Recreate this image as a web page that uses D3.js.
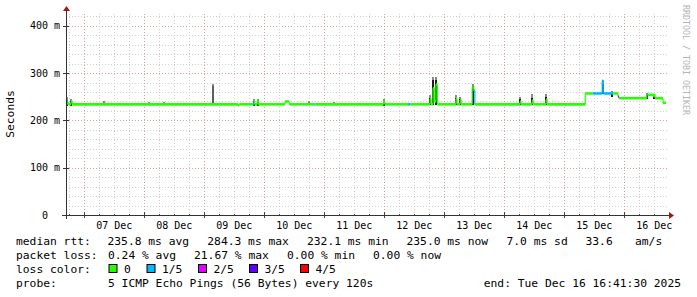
<!DOCTYPE html>
<html>
<head>
<meta charset="utf-8">
<script src="https://cdn.jsdelivr.net/npm/d3@7"></script>
<style>
body { margin: 0; background: #fff; }
text { font-family: "DejaVu Sans Mono", monospace; fill: #000; }
</style>
</head>
<body>
<script>
// DATA

var startTime = "2025-12-06 16:41:30";
var endTime = "2025-12-16 16:41:30";

var yTicks = [0, 100, 200, 300, 400];
var yTickLabels = ["0  ", "100 m", "200 m", "300 m", "400 m"];

var lossLabels = ["0", "1/5", "2/5", "3/5", "4/5"];
var lossColors = ["#26ff00", "#00b8ff", "#dd00ff", "#5e00ff", "#ff0000"];

// median rtt in ms, one entry each time it changes (step)
var medTimes = [
  "12-06 16:41", "12-06 17:10", "12-06 17:50", "12-06 18:40", "12-06 19:10",
  "12-09 13:30", "12-09 14:00", "12-09 19:30", "12-09 19:50", "12-09 20:10",
  "12-09 21:10", "12-09 21:35", "12-10 08:20", "12-10 10:00", "12-10 20:00",
  "12-10 20:25", "12-11 23:45", "12-12 00:10", "12-12 09:30", "12-12 10:20",
  "12-12 18:20", "12-12 18:45", "12-12 19:30", "12-12 20:00", "12-12 20:40",
  "12-12 21:15", "12-13 04:40", "12-13 05:05", "12-13 06:20", "12-13 06:45",
  "12-13 11:10", "12-13 11:50", "12-13 12:15", "12-14 06:20", "12-14 06:45",
  "12-14 11:10", "12-14 11:35", "12-14 16:45", "12-14 17:10", "12-15 08:24",
  "12-15 11:24", "12-15 15:10", "12-15 15:35", "12-15 19:36", "12-15 21:30",
  "12-15 21:55", "12-16 09:00", "12-16 09:25", "12-16 12:20", "12-16 15:30",
  "12-16 16:41"
];
var medValues = [
  246, 236, 234, 240, 234,
  232, 234, 234, 241, 234,
  242, 234, 240, 234, 234,
  234, 241, 234, 234, 234,
  246, 234, 268, 240, 276,
  234, 246, 234, 243, 234,
  270, 262, 234, 240, 234,
  242, 234, 244, 234, 257,
  257, 284, 257, 257, 250,
  247, 256, 254, 247, 237,
  237
];
var medLoss = [
  1, 0, 0, 0, 0,
  0, 0, 1, 0, 0,
  0, 0, 0, 0, 1,
  0, 0, 0, 1, 0,
  0, 0, 0, 0, 0,
  0, 0, 0, 0, 0,
  0, 1, 0, 0, 0,
  0, 0, 0, 0, 0,
  1, 1, 1, 0, 2,
  0, 1, 0, 0, 0,
  0
];

// smoke (ping spread) spikes, ms
var smokeTimes = [
  "12-06 17:00", "12-06 18:30", "12-07 08:00", "12-08 02:00", "12-08 08:00",
  "12-09 03:36", "12-09 19:45", "12-09 21:20", "12-10 17:50", "12-11 04:00",
  "12-11 23:55", "12-12 18:25", "12-12 19:35", "12-12 20:45", "12-13 04:45",
  "12-13 06:25", "12-13 11:20", "12-14 06:25", "12-14 11:15", "12-14 16:50",
  "12-15 15:20", "12-15 19:00", "12-16 09:10", "12-16 12:00"
];
var smokeLow = [
  230, 230, 232, 232, 232,
  234, 230, 230, 232, 232,
  230, 232, 232, 232, 232,
  232, 232, 232, 232, 232,
  255, 250, 245, 245
];
var smokeHigh = [
  250, 246, 240, 239, 239,
  277, 245, 246, 240, 238,
  246, 254, 292, 291, 254,
  250, 278, 250, 255, 256,
  285, 262, 258, 252
];

// legend
var rttStats = ["235.8 ms avg", "284.3 ms max", "232.1 ms min", "235.0 ms now", "7.0 ms sd", "33.6", "am/s"];
var lossStats = ["0.24 % avg", "21.67 % max", "0.00 % min", "0.00 % now"];
var probeText = "5 ICMP Echo Pings (56 Bytes) every 120s";
var endText = "end: Tue Dec 16 16:41:30 2025";

// CHART STRUCTURE

var svgWidth = 697, svgHeight = 297;
var plot = {left: 66, right: 666, top: 14, bottom: 215};

var svg = d3.select("body").append("svg")
  .attr("width", svgWidth)
  .attr("height", svgHeight);

var parseFull = d3.timeParse("%Y-%m-%d %H:%M:%S");
var parseShort = d3.timeParse("%Y-%m-%d %H:%M");
function t(s) { return parseShort("2025-" + s); }

var xScale = d3.scaleTime()
  .domain([parseFull(startTime), parseFull(endTime)])
  .range([plot.left, plot.right]);
var yScale = d3.scaleLinear()
  .domain([0, 425])
  .range([plot.bottom, plot.top]);

// GRID

var grid = svg.append("g").attr("shape-rendering", "crispEdges");

d3.range(20, 425, 20).forEach(function(v) {
  var major = v % 100 === 0;
  grid.append("line")
    .attr("x1", plot.left).attr("x2", plot.right + 2)
    .attr("y1", Math.round(yScale(v)) + 0.5).attr("y2", Math.round(yScale(v)) + 0.5)
    .attr("stroke", major ? "#e29a9a" : "#cfcfcf")
    .attr("stroke-dasharray", "1,2");
});

d3.timeHour.every(6).range(xScale.domain()[0], xScale.domain()[1]).forEach(function(d) {
  var major = d.getHours() === 0;
  var x = Math.round(xScale(d)) + 0.5;
  grid.append("line")
    .attr("x1", x).attr("x2", x)
    .attr("y1", plot.top).attr("y2", plot.bottom)
    .attr("stroke", major ? "#e29a9a" : "#cfcfcf")
    .attr("stroke-dasharray", "1,2");
  grid.append("line")
    .attr("x1", x).attr("x2", x)
    .attr("y1", plot.bottom - (major ? 3 : 1)).attr("y2", plot.bottom + (major ? 3 : 1))
    .attr("stroke", "#444");
});

// SMOKE

var smoke = svg.append("g").attr("shape-rendering", "crispEdges");
smokeTimes.forEach(function(s, i) {
  var x = Math.round(xScale(t(s))) - 1;
  var tall = smokeHigh[i] - smokeLow[i] > 30;
  var mid = smokeLow[i] + (smokeHigh[i] - smokeLow[i]) * (tall ? 0.9 : 0.7);
  smoke.append("rect")
    .attr("x", x).attr("width", 2)
    .attr("y", yScale(smokeHigh[i]))
    .attr("height", yScale(smokeLow[i]) - yScale(smokeHigh[i]))
    .attr("fill", "#8a8a8a");
  smoke.append("rect")
    .attr("x", x).attr("width", 2)
    .attr("y", yScale(mid))
    .attr("height", yScale(smokeLow[i]) - yScale(mid))
    .attr("fill", i === 5 ? "#5e5e5e" : "#1e1e1e");
});

// MEDIAN LINE, coloured by loss: thick steps, thin risers

var med = svg.append("g");
for (var i = 0; i < medTimes.length - 1; i++) {
  var x0 = xScale(t(medTimes[i])), x1 = xScale(t(medTimes[i + 1]));
  var y0 = yScale(medValues[i]), y1 = yScale(medValues[i + 1]);
  med.append("path")
    .attr("d", "M" + x0 + "," + y0 + "H" + x1)
    .attr("fill", "none")
    .attr("stroke", lossColors[medLoss[i]])
    .attr("stroke-width", 2.6);
  med.append("path")
    .attr("d", "M" + x1 + "," + y0 + "V" + y1)
    .attr("fill", "none")
    .attr("stroke", lossColors[medLoss[i]])
    .attr("stroke-width", 1.2);
}

// AXES

var axis = svg.append("g").attr("shape-rendering", "crispEdges");
axis.append("line")
  .attr("x1", plot.left - 4).attr("x2", plot.right + 3)
  .attr("y1", plot.bottom + 0.5).attr("y2", plot.bottom + 0.5)
  .attr("stroke", "#333");
axis.append("line")
  .attr("x1", plot.left + 0.5).attr("x2", plot.left + 0.5)
  .attr("y1", plot.bottom + 4).attr("y2", plot.top - 3)
  .attr("stroke", "#333");
yTicks.forEach(function(v) {
  axis.append("line")
    .attr("x1", plot.left - 3).attr("x2", plot.left + 3)
    .attr("y1", Math.round(yScale(v)) + 0.5).attr("y2", Math.round(yScale(v)) + 0.5)
    .attr("stroke", "#333");
});

svg.append("path")
  .attr("d", "M" + (plot.right + 3) + "," + (plot.bottom - 3) + "l5,3.5l-5,3.5z")
  .attr("fill", "#a01818");
svg.append("path")
  .attr("d", "M" + (plot.left - 3) + "," + (plot.top - 3) + "l3.5,-5l3.5,5z")
  .attr("fill", "#a01818");

// TICK LABELS

yTicks.forEach(function(v, i) {
  svg.append("text")
    .attr("x", 60).attr("y", yScale(v) + 3.5)
    .attr("text-anchor", "end")
    .attr("font-size", "10px")
    .style("white-space", "pre")
    .text(yTickLabels[i]);
});

d3.timeDay.range(xScale.domain()[0], xScale.domain()[1]).forEach(function(d) {
  var noon = d3.timeHour.offset(d, 12);
  svg.append("text")
    .attr("x", xScale(noon)).attr("y", 229)
    .attr("text-anchor", "middle")
    .attr("font-size", "10px")
    .text(d3.timeFormat("%d %b")(d));
});

svg.append("text")
  .attr("transform", "translate(14,114) rotate(-90)")
  .attr("text-anchor", "middle")
  .attr("font-size", "11.3px")
  .text("Seconds");

svg.append("text")
  .attr("transform", "translate(683,5) rotate(90)")
  .attr("font-size", "8.3px")
  .style("fill", "#b4b4b4")
  .text("RRDTOOL / TOBI OETIKER");

// LEGEND

var lg = svg.append("g").attr("font-size", "11.3px");
var rttX = [107.5, 207.3, 307, 406.5, 506.5, 585.5, 635];
var lossX = [108, 194, 287, 373];
var boxX = [108.5, 146.5, 198, 249, 300];

lg.append("text").attr("x", 16).attr("y", 245).text("median rtt:");
rttStats.forEach(function(s, i) {
  lg.append("text").attr("x", rttX[i]).attr("y", 245).text(s);
});
lg.append("text").attr("x", 16).attr("y", 259).text("packet loss:");
lossStats.forEach(function(s, i) {
  lg.append("text").attr("x", lossX[i]).attr("y", 259).text(s);
});
lg.append("text").attr("x", 16).attr("y", 273).text("loss color:");
lossLabels.forEach(function(s, i) {
  lg.append("rect")
    .attr("x", boxX[i] + 0.5).attr("y", 264.5)
    .attr("width", 8).attr("height", 8)
    .attr("fill", lossColors[i])
    .attr("stroke", "#000");
  lg.append("text").attr("x", boxX[i] + 15.5).attr("y", 273).text(s);
});
lg.append("text").attr("x", 16).attr("y", 287).text("probe:");
lg.append("text").attr("x", 108).attr("y", 287).text(probeText);
lg.append("text").attr("x", 681).attr("y", 287).attr("text-anchor", "end").text(endText);
</script>
</body>
</html>
